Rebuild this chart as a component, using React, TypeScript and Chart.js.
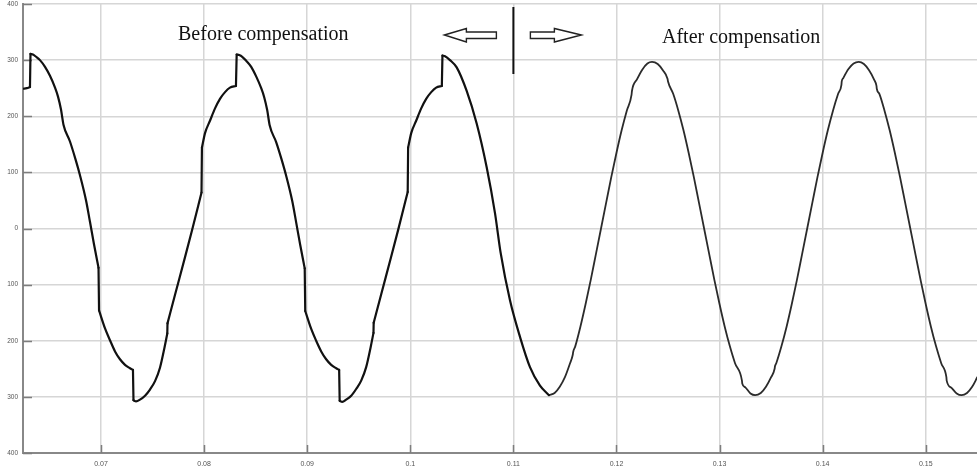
import React, { useEffect, useRef } from "react";
import { Chart, registerables } from "chart.js";

Chart.register(...registerables);

// ---- Data (time in s, voltage in V) ----
const timeBefore = [
  0.06243, 0.0628, 0.06311, 0.06316, 0.0634, 0.0637, 0.06408, 0.06457, 0.06505, 0.06554,
  0.06583, 0.06612, 0.06636, 0.06699, 0.0675, 0.06796, 0.06855, 0.06893, 0.06932, 0.06976,
  0.06981, 0.07039, 0.07087, 0.07136, 0.07184, 0.07233, 0.07281, 0.0731, 0.07315, 0.0734,
  0.07378, 0.07427, 0.07475, 0.07524, 0.07572, 0.07616, 0.07643, 0.07645, 0.07718, 0.07815,
  0.07883, 0.07975, 0.07979, 0.08009, 0.08057, 0.08106, 0.08154, 0.08203, 0.08251, 0.08309,
  0.08316, 0.0834, 0.0837, 0.08408, 0.08457, 0.08505, 0.08554, 0.08583, 0.08612, 0.08636,
  0.08699, 0.0875, 0.08796, 0.08855, 0.08893, 0.08932, 0.08976, 0.08981, 0.09039, 0.09087,
  0.09136, 0.09184, 0.09233, 0.09281, 0.0931, 0.09315, 0.0934, 0.09378, 0.09427, 0.09475,
  0.09524, 0.09572, 0.09616, 0.09643, 0.09645, 0.09718, 0.09815, 0.09883, 0.09975, 0.09979,
  0.10009, 0.10057, 0.10106, 0.10154, 0.10203, 0.10251, 0.10306, 0.10312, 0.10337, 0.10385,
  0.1045, 0.10547, 0.10644, 0.10741, 0.10822, 0.10877, 0.10967, 0.11064, 0.11161, 0.11258,
  0.11345,
];
const voltBefore = [
  249, 250, 252, 311, 310, 306, 300, 288, 272, 251,
  235, 212, 185, 155, 125, 95, 50, 12, -28, -70,
  -146, -178, -199, -219, -233, -243, -249, -252, -306, -308,
  -305, -298, -287, -272, -248, -212, -187, -169, -118, -51,
  -3, 64, 144, 170, 192, 214, 231, 243, 251, 254,
  310, 309, 306, 299, 288, 271, 250, 234, 211, 184,
  154, 124, 94, 49, 11, -29, -71, -147, -179, -200,
  -219, -233, -243, -249, -252, -307, -309, -305, -298, -286,
  -271, -247, -211, -186, -168, -117, -50, -2, 65, 144,
  170, 192, 214, 231, 243, 251, 254, 308, 307, 300,
  287, 245, 187, 109, 27, -44, -128, -193, -247, -280,
  -297,
];

const timeAfter = [
  0.11345, 0.114, 0.1145, 0.115, 0.1155, 0.11576, 0.1158, 0.116, 0.1165, 0.117,
  0.1175, 0.118, 0.1185, 0.119, 0.1195, 0.12, 0.1205, 0.121, 0.12146, 0.1215,
  0.122, 0.1225, 0.123, 0.12345, 0.124, 0.1245, 0.12495, 0.125, 0.1255, 0.126,
  0.1265, 0.127, 0.1275, 0.128, 0.1285, 0.129, 0.1295, 0.13, 0.1305, 0.131,
  0.1315, 0.13217, 0.1322, 0.1325, 0.133, 0.13345, 0.134, 0.1345, 0.135, 0.13534,
  0.13538, 0.1355, 0.136, 0.1365, 0.137, 0.1375, 0.138, 0.1385, 0.139, 0.1395,
  0.14, 0.1405, 0.141, 0.1415, 0.14182, 0.14185, 0.142, 0.1425, 0.143, 0.1435,
  0.144, 0.1445, 0.145, 0.14522, 0.14525, 0.1455, 0.146, 0.1465, 0.147, 0.1475,
  0.148, 0.1485, 0.149, 0.1495, 0.15, 0.1505, 0.151, 0.1515, 0.152, 0.15203,
  0.1525, 0.153, 0.15348, 0.154, 0.1545, 0.155,
];
const voltAfter = [
  -297, -293, -282, -265, -240, -225, -220, -210, -175, -135,
  -92, -46, 0, 46, 92, 135, 175, 210, 238, 245,
  266, 283, 294, 297, 293, 282, 267, 262, 240, 210,
  175, 135, 92, 46, 0, -46, -92, -135, -175, -210,
  -240, -271, -276, -283, -294, -297, -293, -282, -265, -250,
  -245, -240, -210, -175, -135, -92, -46, 0, 46, 92,
  135, 175, 210, 240, 256, 262, 268, 284, 294, 297,
  293, 282, 265, 254, 249, 240, 210, 175, 135, 92,
  46, 0, -46, -92, -135, -175, -210, -240, -265, -271,
  -284, -294, -297, -293, -282, -265,
];

const xTickValues = [0.07, 0.08, 0.09, 0.1, 0.11, 0.12, 0.13, 0.14, 0.15];
const xTickLabels = ["0.07", "0.08", "0.09", "0.1", "0.11", "0.12", "0.13", "0.14", "0.15"];
const yTickValues = [-400, -300, -200, -100, 0, 100, 200, 300, 400];
const yTickLabels = ["400", "300", "200", "100", "0", "100", "200", "300", "400"];

const X_MIN = 0.062434;
const X_MAX = 0.15497;
const Y_MIN = -400;
const Y_MAX = 400;
const DIVIDER_T = 0.11;
// a step steeper than this (V/s) is drawn as a straight vertical jump
const JUMP_SLOPE = 400000;

type Pt = { x: number; y: number };

function buildPieces(ts: number[], vs: number[]): Pt[][] {
  const pieces: Pt[][] = [];
  let cur: Pt[] = [{ x: ts[0], y: vs[0] }];
  for (let i = 1; i < ts.length; i++) {
    const p = { x: ts[i], y: vs[i] };
    const slope = Math.abs((vs[i] - vs[i - 1]) / (ts[i] - ts[i - 1]));
    if (slope > JUMP_SLOPE) {
      if (cur.length > 1) pieces.push(cur);
      pieces.push([{ x: ts[i - 1], y: vs[i - 1] }, p]);
      cur = [p];
    } else {
      cur.push(p);
    }
  }
  if (cur.length > 1) pieces.push(cur);
  return pieces;
}

const innerTicksPlugin = {
  id: "innerTicks",
  beforeDatasetsDraw(chart: any) {
    const { ctx, chartArea, scales } = chart;
    ctx.save();
    ctx.strokeStyle = "#7d7d7d";
    ctx.lineWidth = 1.5;
    ctx.beginPath();
    xTickValues.forEach((v) => {
      const px = Math.round(scales.x.getPixelForValue(v)) + 0.5;
      ctx.moveTo(px, chartArea.bottom);
      ctx.lineTo(px, chartArea.bottom - 8);
    });
    yTickValues.forEach((v) => {
      const py = Math.round(scales.y.getPixelForValue(v)) + 0.5;
      ctx.moveTo(chartArea.left, py);
      ctx.lineTo(chartArea.left + 9, py);
    });
    ctx.stroke();
    ctx.restore();
  },
};

const arrowsPlugin = {
  id: "arrows",
  afterDraw(chart: any) {
    const { ctx, scales } = chart;
    const dx = scales.x.getPixelForValue(DIVIDER_T);
    ctx.save();
    ctx.strokeStyle = "#111";
    ctx.lineWidth = 2;
    ctx.beginPath();
    ctx.moveTo(dx, 7);
    ctx.lineTo(dx, 74);
    ctx.stroke();
    ctx.lineWidth = 1.4;
    ctx.strokeStyle = "#222";
    ctx.fillStyle = "#fff";
    // left arrow
    ctx.beginPath();
    ctx.moveTo(dx - 69, 35);
    ctx.lineTo(dx - 47, 28.5);
    ctx.lineTo(dx - 47, 32);
    ctx.lineTo(dx - 17, 32);
    ctx.lineTo(dx - 17, 38.5);
    ctx.lineTo(dx - 47, 38.5);
    ctx.lineTo(dx - 47, 42);
    ctx.closePath();
    ctx.fill();
    ctx.stroke();
    // right arrow
    ctx.beginPath();
    ctx.moveTo(dx + 68, 35);
    ctx.lineTo(dx + 41, 28.5);
    ctx.lineTo(dx + 41, 32);
    ctx.lineTo(dx + 17, 32);
    ctx.lineTo(dx + 17, 38.5);
    ctx.lineTo(dx + 41, 38.5);
    ctx.lineTo(dx + 41, 42);
    ctx.closePath();
    ctx.fill();
    ctx.stroke();
    ctx.restore();
  },
};

export default function App() {
  const canvasRef = useRef<HTMLCanvasElement | null>(null);

  useEffect(() => {
    document.body.style.margin = "0";
    const canvas = canvasRef.current;
    if (!canvas) return;

    const makeSets = (ts: number[], vs: number[], label: string, color: string, width: number) =>
      buildPieces(ts, vs).map((piece) => ({
        label,
        data: piece,
        borderColor: color,
        borderWidth: width,
        pointRadius: 0,
        cubicInterpolationMode: "monotone",
        borderCapStyle: "round",
        borderJoinStyle: "round",
        fill: false,
      }));

    const chart = new Chart(canvas, {
      type: "line",
      data: {
        datasets: [
          ...makeSets(timeBefore, voltBefore, "Before compensation", "#111111", 2.2),
          ...makeSets(timeAfter, voltAfter, "After compensation", "#2b2b2b", 1.8),
        ],
      },
      options: {
        animation: false,
        responsive: true,
        maintainAspectRatio: false,
        layout: { padding: { top: 4, right: 0, bottom: 0, left: 0 } },
        plugins: { legend: { display: false }, tooltip: { enabled: false } },
        scales: {
          x: {
            type: "linear",
            min: X_MIN,
            max: X_MAX,
            afterBuildTicks: (s: any) => {
              s.ticks = xTickValues.map((v) => ({ value: v }));
            },
            afterFit: (s: any) => {
              s.height = 19;
              s.paddingLeft = 0;
              s.paddingRight = 0;
            },
            ticks: {
              autoSkip: false,
              maxRotation: 0,
              padding: 7,
              color: "#555",
              font: { size: 7, family: "'Liberation Sans', Arial, sans-serif" },
              callback: (_v: any, i: number) => xTickLabels[i],
            },
            grid: { color: "#d6d6d6", lineWidth: 1.5, drawTicks: false },
            border: { color: "#888", width: 2 },
          },
          y: {
            type: "linear",
            min: Y_MIN,
            max: Y_MAX,
            afterBuildTicks: (s: any) => {
              s.ticks = yTickValues.map((v) => ({ value: v }));
            },
            afterFit: (s: any) => {
              s.width = 23;
              s.paddingTop = 0;
              s.paddingBottom = 0;
            },
            ticks: {
              autoSkip: false,
              padding: 5,
              color: "#555",
              font: { size: 6.5, family: "'Liberation Sans', Arial, sans-serif" },
              callback: (_v: any, i: number) => yTickLabels[i],
            },
            grid: { color: "#d6d6d6", lineWidth: 1.5, drawTicks: false },
            border: { color: "#888", width: 2 },
          },
        },
      },
      plugins: [innerTicksPlugin, arrowsPlugin],
    } as any);
    return () => chart.destroy();
  }, []);

  const captionStyle: React.CSSProperties = {
    position: "absolute",
    fontFamily: "'Liberation Serif', 'Times New Roman', serif",
    fontSize: "20px",
    lineHeight: "22.14px",
    color: "#111",
    whiteSpace: "nowrap",
    pointerEvents: "none",
  };

  return (
    <div style={{ position: "relative", width: 977, height: 472, background: "#fff", overflow: "hidden" }}>
      <canvas ref={canvasRef} />
      <div style={{ ...captionStyle, left: 178, top: 21.5 }}>Before compensation</div>
      <div style={{ ...captionStyle, left: 662, top: 25 }}>After compensation</div>
    </div>
  );
}
